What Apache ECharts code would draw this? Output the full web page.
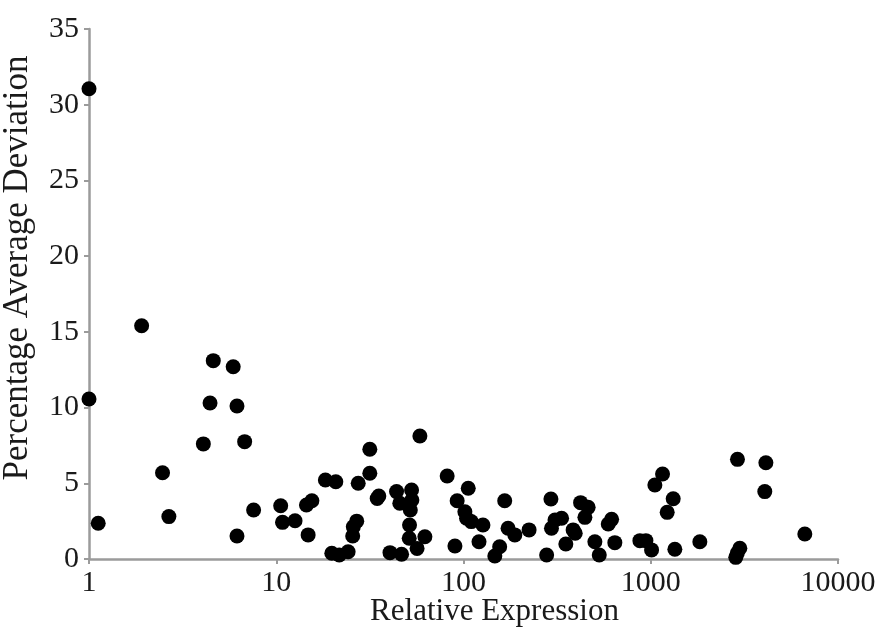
<!DOCTYPE html>
<html>
<head>
<meta charset="utf-8">
<script src="https://cdn.jsdelivr.net/npm/echarts@6/dist/echarts.min.js"></script>
<style>
  html, body { margin: 0; padding: 0; background: #fff; }
  #chart { width: 892px; height: 628px; }
</style>
</head>
<body>
<div id="chart"></div>
<script>
// relative expression (x, log scale) and percentage average deviation (y)
var relExpression = [
  1, 1, 1.12, 1.91, 2.47, 2.67, 4.08, 4.43, 4.61, 5.89,
  6.17, 6.17, 6.78, 7.57, 10.56, 10.8, 12.6, 14.8, 14.5, 15.5,
  18.3, 20.8, 19.8, 21.7, 24.2, 25.6, 25.8, 26.9, 27.4, 31.6,
  31.6, 34.6, 35.3, 40.5, 46.7, 43.9, 45.7, 52.8, 53, 52,
  51.5, 51.3, 56.5, 58.5, 62.2, 81.8, 90, 92.5, 106, 101.7,
  103.8, 110, 121, 127, 147, 156, 166, 173, 188, 224,
  278, 293, 295, 308, 334, 352, 385, 395, 422, 463,
  445, 503, 531, 593, 618, 643, 875, 942, 1010, 1052,
  1156, 1318, 1224, 1345, 1829, 2905, 4120, 4065, 6650, 2990,
  2845, 2900
];
var avgDeviation = [
  31.05, 10.57, 2.36, 15.4, 5.7, 2.8, 7.6, 10.3, 13.1, 12.7,
  10.1, 1.52, 7.75, 3.24, 3.52, 2.42, 2.53, 1.59, 3.57, 3.85,
  5.22, 5.1, 0.38, 0.26, 0.48, 1.52, 2.13, 2.5, 5.0, 5.66,
  7.25, 4.0, 4.16, 0.42, 0.31, 4.45, 3.68, 4.56, 3.9, 3.24,
  2.25, 1.37, 0.7, 8.12, 1.47, 5.48, 0.86, 3.85, 4.67, 3.12,
  2.69, 2.47, 1.14, 2.25, 0.2, 0.81, 3.85, 2.03, 1.59, 1.92,
  0.26, 3.96, 2.03, 2.58, 2.69, 0.99, 1.92, 1.7, 3.72, 3.41,
  2.75, 1.14, 0.26, 2.31, 2.62, 1.08, 1.21, 1.21, 0.6, 4.89,
  5.61, 3.98, 3.08, 0.64, 1.14, 6.58, 6.36, 4.45, 1.65, 0.71,
  0.11, 0.4
];
var xTicks = [1, 10, 100, 1000, 10000];
var yTicks = [0, 5, 10, 15, 20, 25, 30, 35];

var points = relExpression.map(function (x, i) { return [x, avgDeviation[i]]; });

var chart = echarts.init(document.getElementById('chart'));
var axisGrey = '#9b9b9b';
var serif = 'Liberation Serif';

chart.setOption({
  animation: false,
  textStyle: { fontFamily: serif },
  grid: { left: 89, right: 54, top: 29, bottom: 69, containLabel: false, outerBoundsMode: 'none' },
  xAxis: {
    type: 'log',
    logBase: 10,
    min: xTicks[0],
    max: xTicks[xTicks.length - 1],
    name: 'Relative Expression',
    nameLocation: 'middle',
    nameGap: 37,
    nameMoveOverlap: false,
    nameTextStyle: { fontFamily: serif, fontSize: 31, color: '#1a1a1a', padding: [0, 0, 0, 62] },
    axisLine: { lineStyle: { color: axisGrey, width: 2.5 } },
    axisTick: { show: true, length: 5, lineStyle: { color: axisGrey, width: 2 } },
    minorTick: { show: false },
    splitLine: { show: false },
    axisLabel: {
      margin: 9,
      fontFamily: serif, fontSize: 30, color: '#1a1a1a',
      formatter: function (v) { return String(Math.round(v)); }
    }
  },
  yAxis: {
    type: 'value',
    min: yTicks[0],
    max: yTicks[yTicks.length - 1],
    interval: 5,
    name: 'Percentage Average Deviation',
    nameLocation: 'middle',
    nameGap: 54,
    nameMoveOverlap: false,
    nameTextStyle: { fontFamily: serif, fontSize: 35, color: '#1a1a1a', padding: [0, 0, 0, 52] },
    axisLine: { show: true, lineStyle: { color: axisGrey, width: 2.5 } },
    axisTick: { show: true, length: 5, lineStyle: { color: axisGrey, width: 2 } },
    splitLine: { show: false },
    axisLabel: { margin: 10, fontFamily: serif, fontSize: 30, color: '#1a1a1a' }
  },
  series: [{
    type: 'scatter',
    data: points,
    symbol: 'circle',
    symbolSize: 15,
    clip: false,
    itemStyle: { color: '#000', opacity: 1 }
  }]
});
</script>
</body>
</html>
